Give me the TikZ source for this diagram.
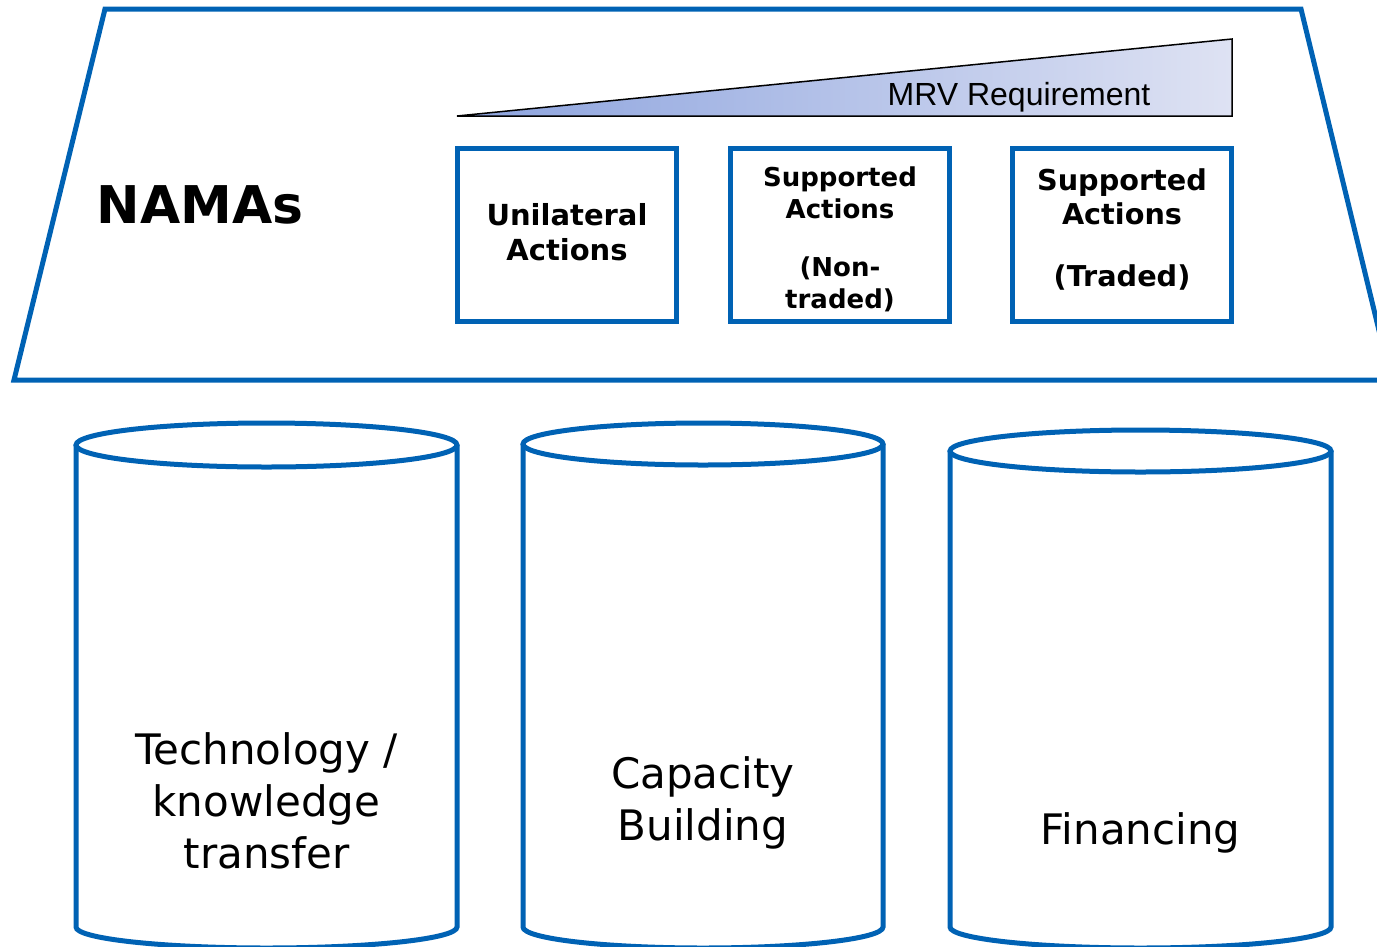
\documentclass[tikz,border=0pt]{standalone}
\usepackage{fontspec}
\setmainfont{DejaVu Sans}
\newfontfamily\arialfont{Liberation Sans}
\usetikzlibrary{positioning}
\definecolor{namablue}{RGB}{0,98,180}
\definecolor{mrvdark}{RGB}{140,163,222}
\definecolor{mrvlight}{RGB}{222,226,243}
\tikzset{
roof/.style={draw=namablue,line width=5pt,line join=miter},
action/.style={rectangle,draw=namablue,line width=5pt,fill=white,minimum width=219pt,
minimum height=173pt,inner sep=0pt},
actiontext/.style={align=center,inner sep=0pt},
pillar/.style={draw=namablue,line width=5pt,fill=white},
pillartext/.style={align=center,font=\fontsize{42}{52}\selectfont}
}

\begin{document}
\begin{tikzpicture}[x=1pt, y=-1pt]
\useasboundingbox (0,0) rectangle (1377,946);
\clip (0,0) rectangle (1377,946);

% roof
\draw[roof] (105,9) -- (1301,9) -- (1391,380) -- (14,380) -- cycle;

% MRV wedge
\draw[black,line width=1.5pt,left color=mrvdark,right color=mrvlight]
  (457,116) -- (1232,39) -- (1232,116) -- cycle;
\node[font=\arialfont\fontsize{32}{38}\selectfont,anchor=base] (mrv) at (1019,105) {MRV Requirement};

\node[font=\bfseries\fontsize{52}{60}\selectfont] (namas) at (200,205) {NAMAs};

% actions
\node[action] (nontraded) at (840,234.5) {};
\node[action] (unilateral) [left=49pt of nontraded] {};
\node[action] (traded) [right=58pt of nontraded] {};

\node[actiontext,font=\bfseries\fontsize{29}{35}\selectfont] (unilateraltext) at ([yshift=2pt]unilateral.center)
  {Unilateral\\Actions};
\node[actiontext,font=\bfseries\fontsize{26}{32}\selectfont] (nontradedtext) at ([yshift=-5pt]nontraded.center)
  {Supported\\Actions\\[26pt](Non-\\traded)};
\node[actiontext,font=\bfseries\fontsize{28.7}{34}\selectfont] (tradedtext) at ([yshift=5pt]traded.center)
  {Supported\\Actions\\[28pt](Traded)};

% pillars
\path[pillar] (76,445) -- (76,927) arc[start angle=180,end angle=360,x radius=190.5pt,y radius=21pt] -- (457,445);
\draw[pillar] (266.5,445) ellipse[x radius=190.5pt,y radius=22pt];
\path[pillar] (523,444) -- (523,927) arc[start angle=180,end angle=360,x radius=180pt,y radius=21pt] -- (883,444);
\draw[pillar] (703,444) ellipse[x radius=180pt,y radius=21pt];
\path[pillar] (950,451) -- (950,927) arc[start angle=180,end angle=360,x radius=190.5pt,y radius=21pt] -- (1331,451);
\draw[pillar] (1140.5,451) ellipse[x radius=190.5pt,y radius=21pt];

\node[pillartext] (tech) at (266.5,801) {Technology /\\knowledge\\transfer};
\node[pillartext] (capacity) at (703,803) {Capacity\\Building};
\node[pillartext] (finance) at (1140.5,833) {Financing};

\end{tikzpicture}
\end{document}
